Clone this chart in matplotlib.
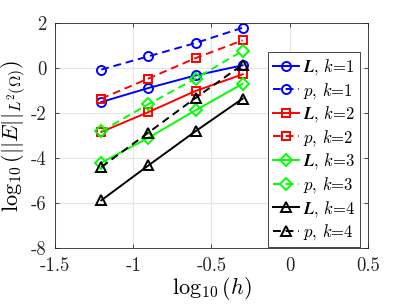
import matplotlib
matplotlib.use("Agg")
import matplotlib.pyplot as plt

plt.rcParams['font.family'] = 'serif'
plt.rcParams['font.serif'] = ['cmr10', 'DejaVu Serif']
plt.rcParams['mathtext.fontset'] = 'cm'
plt.rcParams['axes.formatter.use_mathtext'] = True

# log10(h) for the four meshes
log_h = [-1.204, -0.903, -0.602, -0.301]

# log10 of the L2 error
L_k1 = [-1.51, -0.89, -0.33, 0.12]
p_k1 = [-0.07, 0.52, 1.11, 1.79]
L_k2 = [-2.84, -1.96, -1.02, -0.28]
p_k2 = [-1.36, -0.47, 0.44, 1.23]
L_k3 = [-4.21, -3.10, -1.88, -0.70]
p_k3 = [-2.81, -1.61, -0.47, 0.76]
L_k4 = [-5.88, -4.33, -2.81, -1.36]
p_k4 = [-4.40, -2.87, -1.33, 0.15]

L_series = [L_k1, L_k2, L_k3, L_k4]
p_series = [p_k1, p_k2, p_k3, p_k4]
colors = ["#0000ff", "#ff0000", "#00ff00", "#000000"]
markers = ["o", "s", "D", "^"]
msizes = [6.5, 5.5, 6, 7]

fig = plt.figure(figsize=(4.07, 3.05), dpi=100)
ax = fig.add_axes([55/407, 1 - 248/305, 313/407, 225/305])

for k in range(4):
  ax.plot(log_h, L_series[k], color=colors[k], marker=markers[k], ms=msizes[k],
          mfc='none', mew=1.4, lw=1.4, ls='-',
          label=r'$\mathbfit{L}$, $k$=%d' % (k + 1))
  ax.plot(log_h, p_series[k], color=colors[k], marker=markers[k], ms=msizes[k],
          mfc='none', mew=1.4, lw=1.4, ls=(0, (4, 2.5)),
          label=r'$p$, $k$=%d' % (k + 1))

ax.set_xlim(-1.5, 0.5)
ax.set_ylim(-8, 2)
ax.set_xticks([-1.5, -1, -0.5, 0, 0.5])
ax.set_xticklabels(['-1.5', '-1', '-0.5', '0', '0.5'])
ax.set_yticks([-8, -6, -4, -2, 0, 2])
ax.set_yticklabels(['-8', '-6', '-4', '-2', '0', '2'])
ax.grid(True, color='#e6e6e6', lw=0.8)
ax.set_axisbelow(True)
ax.tick_params(direction='in', top=True, right=True, labelsize=13.5, colors='#262626',
               length=3, width=0.6)
ax.tick_params(axis='x', pad=6.5)
ax.tick_params(axis='y', pad=6)
for s in ax.spines.values():
  s.set_color('#262626')
  s.set_linewidth(0.6)

ax.set_xlabel(r'$\log_{10}(h)$', fontsize=16, labelpad=0)
ax.set_ylabel(r'$\log_{10}(||E||_{L^2(\Omega)})$', fontsize=16, labelpad=2)

leg = ax.legend(loc='upper right', bbox_to_anchor=(305/313, 196/225), fontsize=12,
                handlelength=1.6, handletextpad=0.2, borderpad=0.3,
                borderaxespad=0, labelspacing=0.22, fancybox=False,
                edgecolor='#262626', framealpha=1)
leg.get_frame().set_linewidth(0.6)

fig.savefig("out.png", dpi=100)
